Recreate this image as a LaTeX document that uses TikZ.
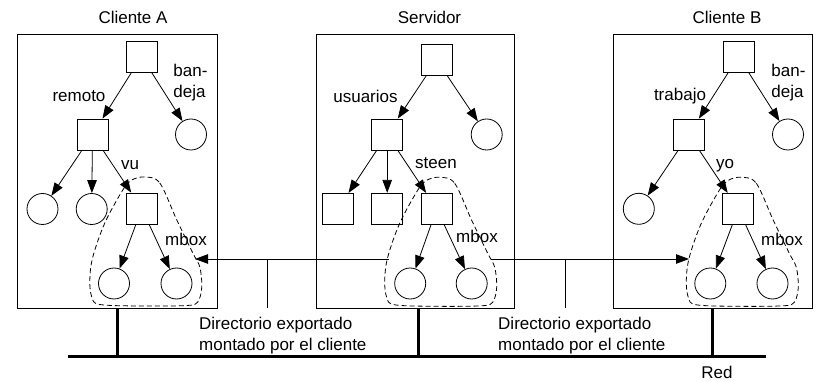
\documentclass[tikz,border=0pt]{standalone}
\usepackage{fontspec}
\setmainfont{Liberation Sans}
\usetikzlibrary{arrows.meta}

% closed dashed outline around an exported subtree, placed at the subtree's root
\newcommand\subtreeoutline[1]{%
  \draw[region, shift={(#1.center)}] plot[smooth cycle, tension=0.55] coordinates {
    (3,-31.5) (18,-25.5) (35,11.5) (51,44.5) (58,58.5) (60,78.5) (56,93.5)
    (45,97) (0,97.5) (-42,96) (-50,88.5) (-52,71.5) (-49,48.5) (-37,14.5)
    (-19,-18.5) (-10,-28.5)};}

\begin{document}
\begin{tikzpicture}[x=1pt,y=-1pt,
  every node/.style={font=\fontsize{17}{21}\selectfont},
  dirbox/.style={draw, line width=0.8pt, minimum size=31pt, inner sep=0pt},
  filenode/.style={draw, circle, line width=0.8pt, minimum size=31pt, inner sep=0pt},
  hostbox/.style={draw, line width=0.8pt, inner sep=0pt},
  lbl/.style={inner sep=0pt},
  link/.style={line width=0.8pt, -{Triangle[length=13pt,width=9.5pt]}},
  mount/.style={line width=0.8pt},
  net/.style={line width=3pt},
  region/.style={line width=0.8pt, dash pattern=on 5pt off 3pt}
]
\useasboundingbox (0,0) rectangle (815,382);

% ---- hosts ----
\node[hostbox, minimum width=200pt, minimum height=274pt] (boxA) at (117,171) {};
\node[hostbox, minimum width=198pt, minimum height=274pt] (boxS) at (415,171) {};
\node[hostbox, minimum width=199pt, minimum height=274pt] (boxB) at (712.5,171) {};

\node[lbl] (tA) at (133,17) {Cliente A};
\node[lbl] (tS) at (429.5,17) {Servidor};
\node[lbl] (tB) at (727,17) {Cliente B};

% ---- Cliente A tree ----
\node[dirbox]   (rA)   at (141.5,56.5) {};
\node[dirbox]   (remA) at (92.5,134.5) {};
\node[filenode] (bA)   at (191,134.5) {};
\node[filenode] (a1)   at (42.5,209) {};
\node[filenode] (a2)   at (91.7,209) {};
\node[dirbox]   (vuA)  at (141.8,208.5) {};
\node[filenode] (a3)   at (114,283.5) {};
\node[filenode] (a4)   at (176.5,283.5) {};

\draw[link] (rA) -- (remA);
\draw[link] (rA) -- (bA);
\draw[link] (remA) -- (a1);
\draw[link] (remA) -- (a2);
\draw[link] (remA) -- (vuA);
\draw[link] (vuA) -- (a3);
\draw[link] (vuA) -- (a4);
\subtreeoutline{vuA}

\node[lbl] (lremA) at (79,96) {remoto};
\node[lbl, align=left] (lbA) at (190.5,82.5) {ban-\\deja};
\node[lbl] (lvuA) at (130,165) {vu};
\node[lbl] (lmA) at (186,239) {mbox};

% ---- Servidor tree ----
\node[dirbox]   (rS)  at (436.7,60) {};
\node[dirbox]   (uS)  at (387.2,134.5) {};
\node[filenode] (cS)  at (486.7,134.5) {};
\node[dirbox]   (s1)  at (338,208.8) {};
\node[dirbox]   (s2)  at (387.2,208.8) {};
\node[dirbox]   (stS) at (436.7,208.8) {};
\node[filenode] (s3)  at (410.2,283.5) {};
\node[filenode] (s4)  at (471.7,283.5) {};

\draw[link] (rS) -- (uS);
\draw[link] (rS) -- (cS);
\draw[link] (uS) -- (s1);
\draw[link] (uS) -- (s2);
\draw[link] (uS) -- (stS);
\draw[link] (stS) -- (s3);
\draw[link] (stS) -- (s4);
\subtreeoutline{stS}

\node[lbl] (luS) at (365.5,96) {usuarios};
\node[lbl] (lstS) at (436,163) {steen};
\node[lbl] (lmS) at (477,236) {mbox};

% ---- Cliente B tree ----
\node[dirbox]   (rB)  at (738.5,56.5) {};
\node[dirbox]   (trB) at (688.8,134.5) {};
\node[filenode] (bB)  at (788,134.5) {};
\node[filenode] (b1)  at (638.8,208.8) {};
\node[dirbox]   (yB)  at (738.3,208.8) {};
\node[filenode] (b3)  at (710.3,283.5) {};
\node[filenode] (b4)  at (772.5,283.5) {};

\draw[link] (rB) -- (trB);
\draw[link] (rB) -- (bB);
\draw[link] (trB) -- (b1);
\draw[link] (trB) -- (yB);
\draw[link] (yB) -- (b3);
\draw[link] (yB) -- (b4);
\subtreeoutline{yB}

\node[lbl] (ltrB) at (680,96) {trabajo};
\node[lbl, align=left] (lbB) at (788.5,82.5) {ban-\\deja};
\node[lbl] (lyB) at (725,165.5) {yo};
\node[lbl] (lmB) at (782,239) {mbox};

% ---- mounts ----
\coordinate (eA)  at (195,259);
\coordinate (sL)  at (389,259);
\coordinate (jA)  at (267,259);
\coordinate (jAb) at (267,308);
\coordinate (sR)  at (491,259);
\coordinate (eB)  at (689,259);
\coordinate (jB)  at (565,259);
\coordinate (jBb) at (565,308);

\draw[mount, -{Triangle[length=13pt,width=9.5pt]}] (sL) -- (eA);
\draw[mount] (jA) -- (jAb);
\draw[mount, -{Triangle[length=13pt,width=9.5pt]}] (sR) -- (eB);
\draw[mount] (jB) -- (jBb);

\node[lbl, align=left, anchor=west] (txtA) at (199,336) {Directorio exportado\\montado por el cliente};
\node[lbl, align=left, anchor=west] (txtB) at (498,336) {Directorio exportado\\montado por el cliente};

% ---- network ----
\coordinate (netL) at (68,357);
\coordinate (netR) at (766,357);
\draw[net] (netL) -- (netR);
\draw[net] (boxA.south) -- (boxA.south |- netL);
\draw[net] ([xshift=3pt]boxS.south) -- ([xshift=3pt]boxS.south |- netL);
\draw[net] (boxB.south) -- (boxB.south |- netL);
\node[lbl] (red) at (717,372.5) {Red};
\end{tikzpicture}
\end{document}
